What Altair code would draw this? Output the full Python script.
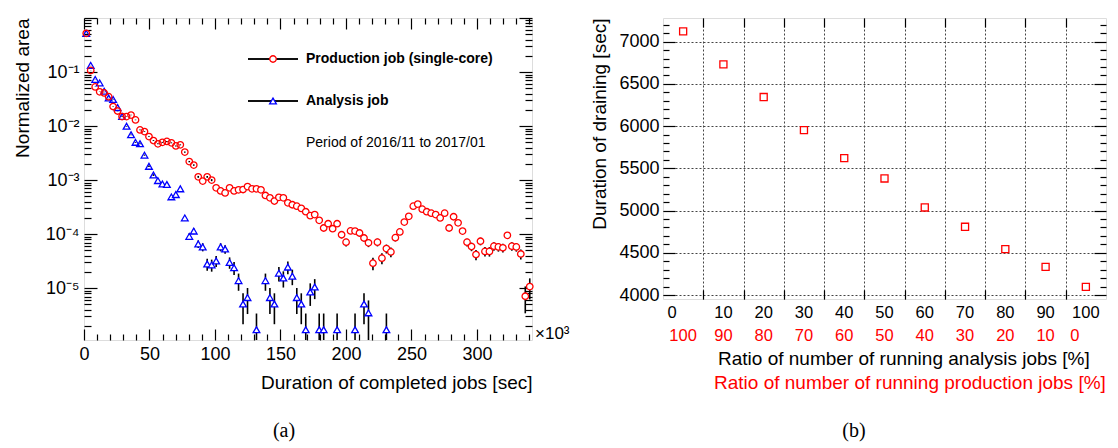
import altair as alt
import pandas as pd

FONT = "Liberation Sans"

# ---------------- panel (a) data ----------------
BIN_WIDTH_K = 3.42  # histogram bin width, in units of 10^3 sec
prod_area = [0.52, 0.107, 0.053, 0.043, 0.041, 0.035, 0.023, 0.019, 0.015, 0.015,
             0.016, 0.013, 0.0085, 0.0079, 0.0064, 0.0054, 0.0047, 0.005, 0.0052, 0.0049,
             0.0043, 0.0045, 0.0033, 0.0022, 0.0019, 0.00115, 0.00096, 0.00115, 0.001, 0.00072,
             0.00063, 0.00058, 0.00072, 0.00063, 0.00066, 0.00067, 0.00076, 0.00069, 0.00069, 0.00066,
             0.00052, 0.00047, 0.00041, 0.00048, 0.00047, 0.00038, 0.00035, 0.00033, 0.0003, 0.00026,
             0.00022, 0.00023, 0.00018, 0.00013, 0.000156, 0.000126, 0.000156, 0.0000975, 0.000071, 0.000115,
             0.000114, 0.000105, 0.000085, 0.000069, 0.000029, 0.000071, 0.000036, 0.000054, 0.000047, 0.000086,
             0.00011, 0.000167, 0.000214, 0.00033, 0.00036, 0.00029, 0.00026, 0.000245, 0.00023, 0.0002,
             0.000245, 0.00013, 0.00021, 0.000162, 0.000114, 0.000071, 0.000059, 0.000042, 0.000074, 0.000048,
             0.000048, 0.00006, 0.000058, 0.000056, 0.000095, 0.00006, 0.000058, 0.000043, 0.0000071, 0.0000107]
ana_area = [0.52, 0.133, 0.073, 0.063, 0.044, 0.033, 0.031, 0.022, 0.015, 0.0099,
            0.0069, 0.005, 0.0047, 0.0029, 0.0018, 0.00124, 0.00098, 0.00085, 0.00083, 0.00049,
            0.00054, 0.00069, 0.0002, 0.000091, 0.000114, 0.000066, 0.000058, 0.000028, 0.000027, 0.000032,
            0.000058, 0.000053, 0.00003, 0.000024, 0.0000138, 0.0000051, 0.0000067, None, 0.0000017, None,
            0.0000138, 0.0000067, 0.0000051, 0.000019, 0.0000154, 0.0000246, 0.0000167, 0.0000067, 0.0000051, 0.0000017,
            0.0000085, 0.0000105, 0.0000017, 0.0000017, None, None, 0.0000017, None, None, None,
            0.0000017, None, 0.0000051, 0.0000035, None, None, None, 0.0000017, None, None]
# normalized area carried by one single job (sets the Poisson error bars)
prod_unit = 1.9e-6
ana_unit = 1.7e-6

legend_labels = ["Production job (single-core)", "Analysis job"]
period_text = "Period of 2016/11 to 2017/01"

# ---------------- panel (b) data ----------------
analysis_pct = [0, 10, 20, 30, 40, 50, 60, 70, 80, 90, 100]
production_pct = [100, 90, 80, 70, 60, 50, 40, 30, 20, 10, 0]
drain_sec = [7122, 6731, 6344, 5953, 5621, 5380, 5037, 4808, 4543, 4334, 4097]

# ---------------- geometry ----------------
W_A, H_A = 448, 322
W_B, H_B = 443, 281
Y_MIN_A = 1.1e-6


def hist_frame(values, unit):
    rows = []
    for i, v in enumerate(values):
        if v is None:
            continue
        err = (v * unit) ** 0.5
        rows.append({"x": (i + 0.5) * BIN_WIDTH_K, "v": v,
                     "lo": max(v - err, Y_MIN_A), "hi": v + err})
    return pd.DataFrame(rows)


df_prod = hist_frame(prod_area, prod_unit)
df_ana = hist_frame(ana_area, ana_unit)
df_all = pd.concat([df_prod, df_ana], ignore_index=True)

xa = alt.Scale(domain=[0, 342], nice=False, zero=False)
ya = alt.Scale(type="log", domain=[Y_MIN_A, 1], nice=False)

X_MAJ_A = [0, 50, 100, 150, 200, 250, 300]
X_MIN_A = [v for v in range(10, 341, 10) if v % 50]
Y_MAJ_A = [1e-5, 1e-4, 1e-3, 1e-2, 1e-1, 1.0]
Y_MIN_A_T = [m * 10.0 ** e for e in range(-6, 0) for m in range(2, 10) if m * 10.0 ** e > Y_MIN_A]


def tick_axis(orient, offset, values, size):
    return alt.Axis(orient=orient, offset=offset, values=values, ticks=True, tickSize=size,
                    tickColor="black", tickWidth=1.2, labels=False, domain=False,
                    grid=False, title=None)


def ghost(df, xf, yf, xs, ys, xax, yax):
    return alt.Chart(df).mark_point(opacity=0).encode(
        x=alt.X(xf, scale=xs, axis=xax), y=alt.Y(yf, scale=ys, axis=yax))


label_expr_a = ("datum.value > 0.05 ? '10⁻¹' : datum.value > 0.005 ? '10⁻²' : "
                "datum.value > 0.0005 ? '10⁻³' : datum.value > 0.00005 ? '10⁻⁴' : '10⁻⁵'")

err_a = alt.Chart(df_all).mark_rule(color="black", strokeWidth=1.6).encode(
    x=alt.X("x:Q", scale=xa,
            axis=alt.Axis(values=X_MAJ_A, ticks=False, domain=False, grid=False,
                          labelFontSize=18, labelFont=FONT, labelColor="black",
                          labelPadding=5, labelFlush=False,
                          title="Duration of completed jobs [sec]", titleAnchor="end",
                          titleFont=FONT, titleFontSize=19, titleFontWeight="normal",
                          titleColor="black", titlePadding=10)),
    y=alt.Y("lo:Q", scale=ya,
            axis=alt.Axis(values=Y_MAJ_A[:-1], labelExpr=label_expr_a, ticks=False,
                          domain=False, grid=False, labelFontSize=18, labelFont=FONT,
                          labelColor="black", labelPadding=5, minExtent=44, maxExtent=44,
                          title="Normalized area", titleAnchor="end", titleFont=FONT,
                          titleFontSize=19, titleFontWeight="normal", titleColor="black",
                          titlePadding=8)),
    y2="hi:Q")

fill_cond = alt.condition("datum.v < 0.001", alt.value("white"), alt.value("transparent"))

ana_pts = alt.Chart(df_ana).mark_point(shape="triangle-up", size=45, stroke="#0000ff",
                                       strokeWidth=1.3, opacity=1).encode(
    x=alt.X("x:Q", scale=xa, axis=None), y=alt.Y("v:Q", scale=ya, axis=None), fill=fill_cond)
prod_pts = alt.Chart(df_prod).mark_point(shape="circle", size=42, stroke="#ff0000",
                                         strokeWidth=1.3, opacity=1).encode(
    x=alt.X("x:Q", scale=xa, axis=None), y=alt.Y("v:Q", scale=ya, axis=None), fill=fill_cond)

ticks_a = [
    ghost(df_prod, "x:Q", "v:Q", xa, ya, tick_axis("top", -H_A, X_MAJ_A, 11),
          tick_axis("right", -W_A, Y_MAJ_A, 13)),
    ghost(df_prod, "x:Q", "v:Q", xa, ya, tick_axis("top", -H_A, X_MIN_A, 6),
          tick_axis("right", -W_A, Y_MIN_A_T, 7)),
    ghost(df_prod, "x:Q", "v:Q", xa, ya, tick_axis("bottom", -H_A, X_MAJ_A, 11),
          tick_axis("left", -W_A, Y_MAJ_A, 13)),
    ghost(df_prod, "x:Q", "v:Q", xa, ya, tick_axis("bottom", -H_A, X_MIN_A, 6),
          tick_axis("left", -W_A, Y_MIN_A_T, 7)),
]

# legend (drawn as annotation marks)
leg_df = pd.DataFrame({"label": legend_labels, "row": [0, 1]})
leg_lines = alt.Chart(leg_df).mark_rule(color="black", strokeWidth=1.6).encode(
    x=alt.value(164), x2=alt.value(214), y=alt.value(41))
leg_lines2 = alt.Chart(leg_df).mark_rule(color="black", strokeWidth=1.6).encode(
    x=alt.value(164), x2=alt.value(214), y=alt.value(83))
leg_c = alt.Chart(leg_df.iloc[[0]]).mark_point(shape="circle", size=42, stroke="#ff0000",
                                                 fill="white", strokeWidth=1.3, opacity=1).encode(
    x=alt.value(189), y=alt.value(41))
leg_t = alt.Chart(leg_df.iloc[[1]]).mark_point(shape="triangle-up", size=45, stroke="#0000ff",
                                                 fill="white", strokeWidth=1.3, opacity=1).encode(
    x=alt.value(189), y=alt.value(83))
leg_txt1 = alt.Chart(leg_df.iloc[[0]]).mark_text(font=FONT, fontSize=14, fontWeight="bold",
                                                  align="left", baseline="middle", color="black").encode(
    x=alt.value(222), y=alt.value(41), text="label:N")
leg_txt2 = alt.Chart(leg_df.iloc[[1]]).mark_text(font=FONT, fontSize=14, fontWeight="bold",
                                                  align="left", baseline="middle", color="black").encode(
    x=alt.value(222), y=alt.value(83), text="label:N")
per_txt = alt.Chart(pd.DataFrame({"t": [period_text]})).mark_text(
    font=FONT, fontSize=14, align="left", baseline="middle", color="black").encode(
    x=alt.value(222), y=alt.value(125), text="t:N")
exp_txt = alt.Chart(pd.DataFrame({"t": ["×10³"]})).mark_text(
    font=FONT, fontSize=17, align="left", baseline="alphabetic", color="black").encode(
    x=alt.value(W_A + 3), y=alt.value(H_A - 1), text="t:N")
cap_a = alt.Chart(pd.DataFrame({"t": ["(a)"]})).mark_text(
    font="Liberation Serif", fontSize=20, align="center", baseline="alphabetic", color="black").encode(
    x=alt.value(200), y=alt.value(H_A + 97), text="t:N")

panel_a = alt.layer(err_a, ana_pts, prod_pts, *ticks_a, leg_lines, leg_lines2, leg_c, leg_t,
                    leg_txt1, leg_txt2, per_txt, exp_txt, cap_a).resolve_axis(
    x="independent", y="independent").properties(width=W_A, height=H_A)

# ---------------- panel (b) ----------------
df_b = pd.DataFrame({"analysis": analysis_pct, "production": production_pct, "drain": drain_sec})
xb = alt.Scale(domain=[-5, 105], nice=False, zero=False)
yb = alt.Scale(domain=[3953, 7280], nice=False, zero=False)
X_EDGES_B = [5, 15, 25, 35, 45, 55, 65, 75, 85, 95]
Y_MAJ_B = [4000, 4500, 5000, 5500, 6000, 6500, 7000]
Y_MIN_B = [v for v in range(4000, 7300, 100) if v % 500]

pts_b = alt.Chart(df_b).mark_point(shape="square", size=50, stroke="#ff0000", strokeWidth=1.3,
                                   opacity=1).encode(
    x=alt.X("analysis:Q", scale=xb,
            axis=alt.Axis(orient="top", offset=-H_B, values=X_EDGES_B, ticks=True, tickSize=9,
                          tickColor="black", tickWidth=1.2, labels=False, domain=False,
                          grid=True, gridDash=[2, 2], gridColor="#444", gridWidth=1, title=None)),
    y=alt.Y("drain:Q", scale=yb,
            axis=alt.Axis(values=Y_MAJ_B, format="d", ticks=False, domain=False, grid=True,
                          gridDash=[2, 2], gridColor="#444", gridWidth=1, labelFontSize=18,
                          labelFont=FONT, labelColor="black", labelPadding=4, minExtent=47,
                          maxExtent=47, title="Duration of draining [sec]", titleAnchor="end",
                          titleFont=FONT, titleFontSize=19, titleFontWeight="normal",
                          titleColor="black", titlePadding=7)))

ticks_b = [
    ghost(df_b, "analysis:Q", "drain:Q", xb, yb, tick_axis("bottom", -H_B, X_EDGES_B, 9),
          tick_axis("right", -W_B, Y_MAJ_B, 12)),
    ghost(df_b, "analysis:Q", "drain:Q", xb, yb, None, tick_axis("right", -W_B, Y_MIN_B, 6)),
    ghost(df_b, "analysis:Q", "drain:Q", xb, yb, None, tick_axis("left", -W_B, Y_MAJ_B, 12)),
    ghost(df_b, "analysis:Q", "drain:Q", xb, yb, None, tick_axis("left", -W_B, Y_MIN_B, 6)),
]

lab_black = alt.Chart(df_b).mark_text(font=FONT, fontSize=16.5, color="black", align="center",
                                      baseline="middle").encode(
    x=alt.X("analysis:Q", scale=xb, axis=None), y=alt.value(H_B + 14),
    text=alt.Text("analysis:Q", format="d")).transform_filter("datum.analysis != 0")
lab_black0 = alt.Chart(df_b).mark_text(font=FONT, fontSize=16.5, color="black", align="center",
                                       baseline="middle", dx=-11).encode(
    x=alt.X("analysis:Q", scale=xb, axis=None), y=alt.value(H_B + 14),
    text=alt.Text("analysis:Q", format="d")).transform_filter("datum.analysis == 0")
lab_red = alt.Chart(df_b).mark_text(font=FONT, fontSize=16.5, color="#ff0000", align="center",
                                    baseline="middle").encode(
    x=alt.X("analysis:Q", scale=xb, axis=None), y=alt.value(H_B + 37),
    text=alt.Text("production:Q", format="d")).transform_filter("datum.production != 0")
lab_red0 = alt.Chart(df_b).mark_text(font=FONT, fontSize=16.5, color="#ff0000", align="center",
                                     baseline="middle", dx=-11).encode(
    x=alt.X("analysis:Q", scale=xb, axis=None), y=alt.value(H_B + 37),
    text=alt.Text("production:Q", format="d")).transform_filter("datum.production == 0")

titles_b = pd.DataFrame({"t": ["Ratio of number of running analysis jobs [%]",
                               "Ratio of number of running production jobs [%]"]})
tb1 = alt.Chart(titles_b.iloc[[0]]).mark_text(font=FONT, fontSize=19, color="black", align="left",
                                              baseline="middle").encode(
    x=alt.value(55), y=alt.value(H_B + 60), text="t:N")
tb2 = alt.Chart(titles_b.iloc[[1]]).mark_text(font=FONT, fontSize=19, color="#ff0000", align="left",
                                              baseline="middle").encode(
    x=alt.value(51), y=alt.value(H_B + 84), text="t:N")
cap_b = alt.Chart(pd.DataFrame({"t": ["(b)"]})).mark_text(
    font="Liberation Serif", fontSize=20, align="center", baseline="alphabetic", color="black").encode(
    x=alt.value(191), y=alt.value(H_B + 138), text="t:N")

panel_b = alt.layer(pts_b, *ticks_b, lab_black, lab_black0, lab_red, lab_red0, tb1, tb2,
                    cap_b).resolve_axis(x="independent", y="independent").properties(
    width=W_B, height=H_B)

chart = alt.hconcat(panel_a, panel_b, spacing=19).properties(
    padding={"left": 4, "top": 8, "right": 0, "bottom": 0}
).configure_view(stroke="black", strokeWidth=1.6).configure(background="white")

chart.save("out.html", embed_options={"renderer": "svg", "actions": False})
